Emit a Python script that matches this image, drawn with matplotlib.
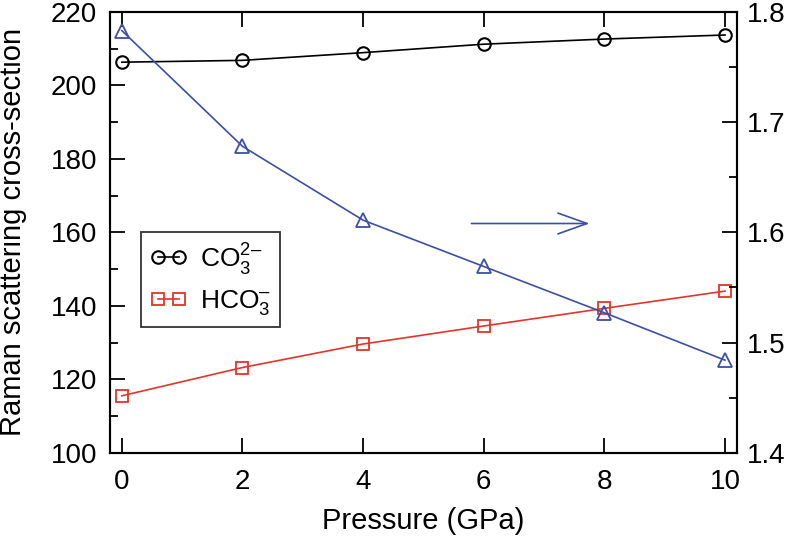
import numpy as np
import matplotlib
matplotlib.use("Agg")
import matplotlib.pyplot as plt
from matplotlib.ticker import MultipleLocator, FormatStrFormatter

plt.rcParams['font.family'] = ['Liberation Sans', 'DejaVu Sans']
plt.rcParams['mathtext.fontset'] = 'custom'
plt.rcParams['mathtext.rm'] = 'Liberation Sans'

# data
pressure = [0, 2, 4, 6, 8, 10]
co3 = [206.3, 206.8, 208.9, 211.2, 212.6, 213.7]
hco3 = [115.5, 123.2, 129.6, 134.5, 139.3, 144.0]
ratio = [1.783, 1.678, 1.611, 1.569, 1.527, 1.484]

BLACK = "black"
RED = "#e3342b"
BLUE = "#3d4fa3"

fig = plt.figure(figsize=(7.9, 5.39), dpi=100)
ax = fig.add_axes([0.139, 0.160, 0.794, 0.818])
ax2 = ax.twinx()

ax.plot(pressure, co3, '-o', color=BLACK, lw=1.2, ms=9, mfc='none', mew=1.5,
        label='CO$_3^{2\u2013}$')
ax.plot(pressure, hco3, '-s', color=RED, lw=1.2, ms=8.5, mfc='none', mew=1.3,
        label='HCO$_3^{\u2013}$')
ax2.plot(pressure, ratio, '-^', color=BLUE, lw=1.2, ms=10, mfc='none', mew=1.3)

# arrow pointing to right axis
ax2.annotate('', xy=(7.8, 1.608), xytext=(5.75, 1.608),
             arrowprops=dict(arrowstyle='->,head_length=1.4,head_width=0.5',
                             color=BLUE, lw=1.2, mutation_scale=15))

ax.set_xlim(-0.2, 10.2)
ax.set_ylim(100, 220)
ax2.set_ylim(1.4, 1.8)

ax.xaxis.set_major_locator(MultipleLocator(2))
ax.yaxis.set_major_locator(MultipleLocator(20))
ax.yaxis.set_minor_locator(MultipleLocator(10))
ax2.yaxis.set_major_locator(MultipleLocator(0.1))
ax2.yaxis.set_minor_locator(MultipleLocator(0.05))
ax2.yaxis.set_major_formatter(FormatStrFormatter('%.1f'))

ax.tick_params(axis='x', which='major', direction='in', top=True, length=11,
               width=1.3, labelsize=20, pad=12)
ax.tick_params(axis='y', which='major', direction='in', length=11, width=1.3,
               labelsize=20, pad=9)
ax.tick_params(axis='y', which='minor', direction='in', length=6, width=1.3)
ax2.tick_params(axis='y', which='major', direction='in', length=11, width=1.3,
                labelsize=20, pad=7)
ax2.tick_params(axis='y', which='minor', direction='in', length=6, width=1.3)

for a in (ax, ax2):
    for s in a.spines.values():
        s.set_linewidth(1.5)

ax.set_xlabel('Pressure (GPa)', fontsize=21, labelpad=8)
ax.set_ylabel('Raman scattering cross-section', fontsize=21, labelpad=17)

leg = ax.legend(loc='upper left', bbox_to_anchor=(0.049, 0.501), numpoints=2,
                handlelength=1.4, handletextpad=0.5, fontsize=19,
                frameon=True, fancybox=False, borderpad=0.35, labelspacing=0.45,
                borderaxespad=0)
leg.get_frame().set_edgecolor('black')
leg.get_frame().set_linewidth(1.3)

fig.savefig('out.png', dpi=100)
